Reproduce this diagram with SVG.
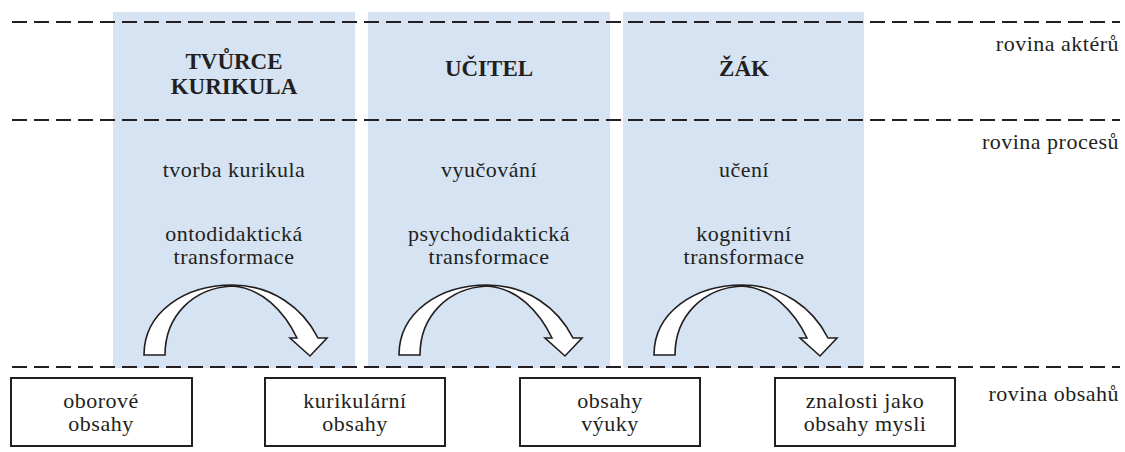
<svg xmlns="http://www.w3.org/2000/svg" width="1125" height="452" viewBox="0 0 1125 452">
<style>
.col{fill:#d5e3f3}
.dash{stroke:#231f20;stroke-width:2;stroke-dasharray:15 7;fill:none}
.t{font-family:"Liberation Serif","Times New Roman",serif;font-size:22px;letter-spacing:0.5px;fill:#231f20;text-anchor:middle}
.h{font-family:"Liberation Serif","Times New Roman",serif;font-size:23px;font-weight:bold;fill:#231f20;text-anchor:middle}
.r{font-family:"Liberation Serif","Times New Roman",serif;font-size:22px;letter-spacing:0.5px;fill:#231f20;text-anchor:end}
.box{fill:#fff;stroke:#231f20;stroke-width:2}
.arr{fill:#fff;stroke:#231f20;stroke-width:1.6;stroke-linejoin:miter}
</style>
<defs>
<path id="arc" d="M144,355 C144,312 185,285 232,285 C272,285 303,308 318,338 L327,338 L310,356 L290,338 L297,338 C284,311 262,288 232,286 C193,288 165,316 165,355 Z"/>
</defs>
<rect width="1125" height="452" fill="#fff"/>
<g id="col1"><rect class="col" x="113" y="12" width="242" height="356"/>
<text class="h" x="234" y="69">TVŮRCE</text><text class="h" x="234" y="94">KURIKULA</text>
<text class="t" x="234" y="177">tvorba kurikula</text>
<text class="t" x="234" y="241">ontodidaktická</text><text class="t" x="234" y="264">transformace</text>
</g>
<g id="col2"><rect class="col" x="368" y="12" width="242" height="356"/>
<text class="h" x="489" y="76">UČITEL</text>
<text class="t" x="489" y="177">vyučování</text>
<text class="t" x="489" y="241">psychodidaktická</text><text class="t" x="489" y="264">transformace</text>
</g>
<g id="col3"><rect class="col" x="623" y="12" width="241" height="356"/>
<text class="h" x="744" y="76">ŽÁK</text>
<text class="t" x="744" y="177">učení</text>
<text class="t" x="744" y="241">kognitivní</text><text class="t" x="744" y="264">transformace</text>
</g>
<g id="levels">
<line class="dash" x1="12" y1="22" x2="1120" y2="22"/>
<line class="dash" x1="12" y1="120" x2="1120" y2="120"/>
<line class="dash" x1="12" y1="367" x2="1120" y2="367"/>
<text class="r" x="1119" y="51">rovina aktérů</text>
<text class="r" x="1119" y="149">rovina procesů</text>
<text class="r" x="1119" y="401">rovina obsahů</text>
</g>
<g id="connectors">
<use href="#arc" class="arr"/>
<use href="#arc" class="arr" transform="translate(255,0)"/>
<use href="#arc" class="arr" transform="translate(510,0)"/>
</g>
<g id="box1"><rect class="box" x="11" y="378" width="181" height="68"/><text class="t" x="101" y="408">oborové</text><text class="t" x="101" y="431">obsahy</text></g>
<g id="box2"><rect class="box" x="265" y="378" width="180" height="68"/><text class="t" x="355" y="408">kurikulární</text><text class="t" x="355" y="431">obsahy</text></g>
<g id="box3"><rect class="box" x="520" y="378" width="180" height="68"/><text class="t" x="610" y="408">obsahy</text><text class="t" x="610" y="431">výuky</text></g>
<g id="box4"><rect class="box" x="775" y="378" width="180" height="68"/><text class="t" x="865" y="408">znalosti jako</text><text class="t" x="865" y="431">obsahy mysli</text></g>
</svg>
